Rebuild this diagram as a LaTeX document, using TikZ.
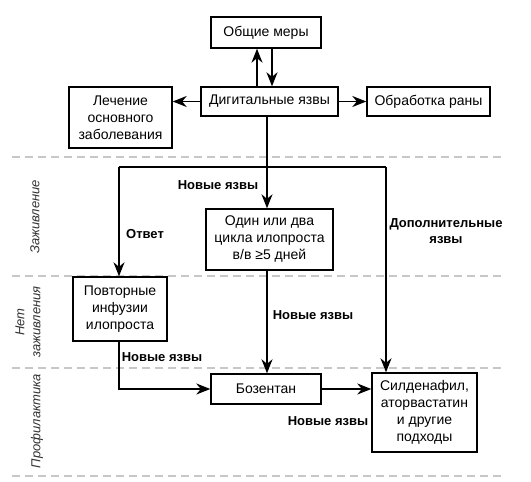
\documentclass[tikz,border=0pt]{standalone}
\usepackage{fontspec}
\setmainfont{Liberation Sans}
\usetikzlibrary{positioning,arrows.meta}
\tikzstyle{chart} = [x = 1pt, y = -1pt, every node/.style={font=\fontsize{14}{17}\selectfont}]
\tikzstyle{boxStyle} = [draw, line width = 1.4pt, align=center, inner sep=0pt]
\tikzstyle{flowArrow} = [line width = 1.4pt, -{Stealth[length=14pt, width=11pt, inset=4.5pt]}]
\tikzstyle{flowLine} = [line width = 1.4pt]
\tikzstyle{flowLabel} = [font=\fontsize{13}{16}\selectfont\bfseries, align=center]
\tikzstyle{stageLabel} = [font=\fontsize{13}{16}\selectfont\itshape, align=center, rotate=90, text=black!80]
\tikzstyle{stageLineStyle} = [color=black!22, line width = 1.4pt, dash pattern=on 8pt off 5pt]
\newcommand{\stageLine}[1]{\draw [stageLineStyle] (12, #1) -- + (490,0);}
\newcommand{\flowBox}[5]{\node [boxStyle, minimum width=#3, minimum height=#4] (#1) at #2 {#5};}

\begin{document}
\begin{tikzpicture}[chart]
  \useasboundingbox (0,0) rectangle (531,482);
  \stageLine{157}
  \stageLine{276}
  \stageLine{368}
  \stageLine{476}
  \node [stageLabel] (healing) at (35,217) {Заживление};
  \node [stageLabel] (noHealing) at (28,322) {Нет\\заживления};
  \node [stageLabel] (prevention) at (37,421) {Профилактика};
  \flowBox{generalMeasures}{(266,32.5)}{110pt}{31pt}{Общие меры}
  \flowBox{ulcers}{(269.5,101.5)}{137pt}{29pt}{Дигитальные язвы}
  \flowBox{treatment}{(120.5,117.5)}{103pt}{61pt}{Лечение\\основного\\заболевания}
  \flowBox{woundCare}{(428.5,101.5)}{123pt}{29pt}{Обработка раны}
  \flowBox{iloprost}{(269.5,239.5)}{127pt}{61pt}{Один или два\\цикла илопроста\\в/в ≥5 дней}
  \flowBox{repeatInf}{(120,309)}{94pt}{64pt}{Повторные\\инфузии\\илопроста}
  \flowBox{bosentan}{(266,389)}{110pt}{30pt}{Бозентан}
  \flowBox{sildenafil}{(424.5,412.5)}{105pt}{79pt}{Силденафил,\\аторвастатин\\и другие\\подходы}
  \coordinate (split) at (267,167);
  \coordinate (leftTop) at (119,167);
  \coordinate (rightTop) at (386,167);
  \coordinate (bend) at (119,389);
  \draw [flowArrow] ([xshift=-12.5pt]ulcers.north) -- ([xshift=-12.5pt]ulcers.north |- generalMeasures.south);
  \draw [flowArrow] ([xshift=6pt]generalMeasures.south) -- ([xshift=6pt]generalMeasures.south |- ulcers.north);
  \draw [flowArrow] (ulcers.west) -- (ulcers.west -| treatment.east);
  \draw [flowArrow] (ulcers.east) -- (woundCare.west);
  \draw [flowLine] (ulcers.south -| split) -- (split);
  \draw [flowLine] (leftTop) -- (rightTop);
  \draw [flowArrow] (split) -- (iloprost.north -| split);
  \draw [flowArrow] (leftTop) -- (leftTop |- repeatInf.north);
  \draw [flowArrow] (rightTop) -- (rightTop |- sildenafil.north);
  \draw [flowArrow] (iloprost.south -| split) -- (bosentan.north -| split);
  \draw [flowArrow] (repeatInf.south -| bend) -- (bend) -- (bosentan.west);
  \draw [flowArrow] (bosentan.east) -- (bosentan.east -| sildenafil.west);
  \node [flowLabel] (newUlcersA) at (218,185) {Новые язвы};
  \node [flowLabel] (response) at (145,234) {Ответ};
  \node [flowLabel] (moreUlcers) at (446,231) {Дополнительные\\язвы};
  \node [flowLabel] (newUlcersB) at (313,315) {Новые язвы};
  \node [flowLabel] (newUlcersC) at (162,357) {Новые язвы};
  \node [flowLabel] (newUlcersD) at (328,421) {Новые язвы};
\end{tikzpicture}
\end{document}
